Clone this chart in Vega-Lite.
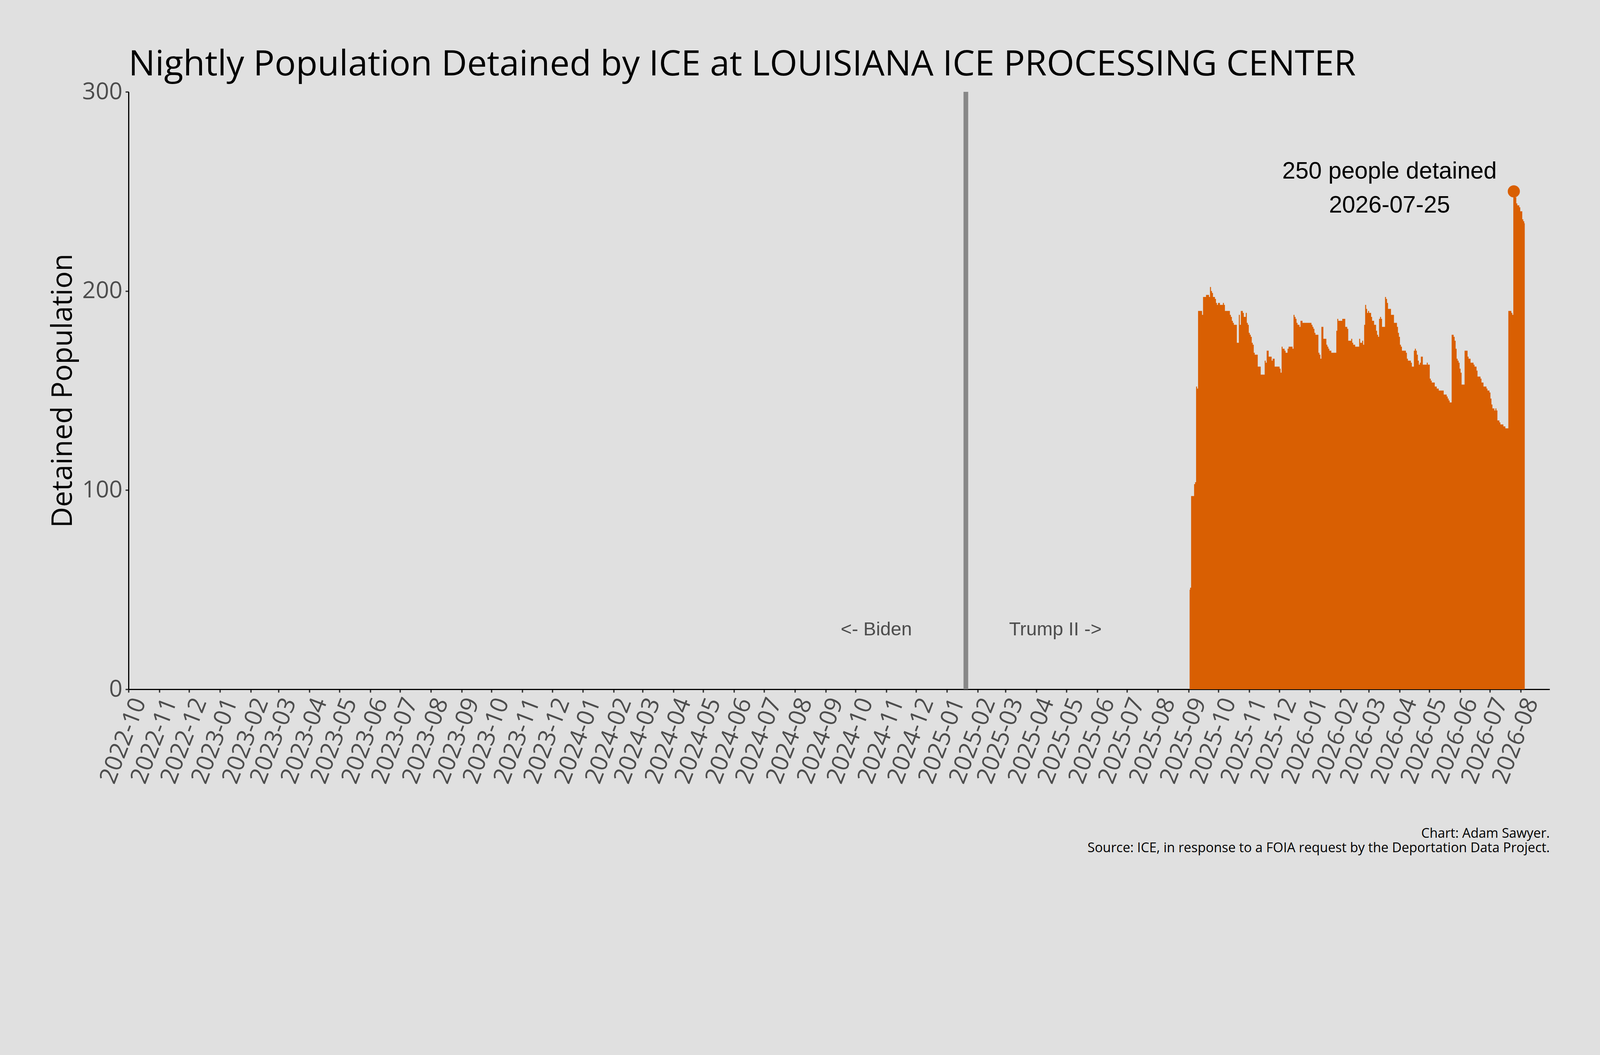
{
  "$schema": "https://vega.github.io/schema/vega-lite/v6.json",
  "width": 3638,
  "height": 1529,
  "autosize": {"type": "none"},
  "padding": {"left": 329, "top": 235, "right": 129, "bottom": 936},
  "background": "#E0E0E0",
  "config": {"view": {"stroke": null}, "font": "Open Sans"},
  "title": {
    "text": "Nightly Population Detained by ICE at LOUISIANA ICE PROCESSING CENTER",
    "anchor": "start",
    "frame": "group",
    "font": "Open Sans",
    "fontSize": 90.5,
    "fontWeight": "normal",
    "color": "#000000",
    "offset": -7
  },
  "datasets": {
    "pop": [
      {"date":"2025-09-02","value":50},{"date":"2025-09-03","value":51},{"date":"2025-09-04","value":97},{"date":"2025-09-05","value":97},{"date":"2025-09-06","value":97},{"date":"2025-09-07","value":103},{"date":"2025-09-08","value":104},{"date":"2025-09-09","value":152},{"date":"2025-09-10","value":151},{"date":"2025-09-11","value":190},{"date":"2025-09-12","value":190},{"date":"2025-09-13","value":190},{"date":"2025-09-14","value":190},{"date":"2025-09-15","value":188},{"date":"2025-09-16","value":197},{"date":"2025-09-17","value":197},{"date":"2025-09-18","value":197},{"date":"2025-09-19","value":198},{"date":"2025-09-20","value":198},{"date":"2025-09-21","value":198},{"date":"2025-09-22","value":197},{"date":"2025-09-23","value":202},{"date":"2025-09-24","value":200},{"date":"2025-09-25","value":199},{"date":"2025-09-26","value":197},{"date":"2025-09-27","value":197},{"date":"2025-09-28","value":196},{"date":"2025-09-29","value":194},{"date":"2025-09-30","value":193},
      {"date":"2025-10-01","value":194},{"date":"2025-10-02","value":194},{"date":"2025-10-03","value":193},{"date":"2025-10-04","value":193},{"date":"2025-10-05","value":193},{"date":"2025-10-06","value":194},{"date":"2025-10-07","value":193},{"date":"2025-10-08","value":190},{"date":"2025-10-09","value":190},{"date":"2025-10-10","value":190},{"date":"2025-10-11","value":190},{"date":"2025-10-12","value":190},{"date":"2025-10-13","value":188},{"date":"2025-10-14","value":187},{"date":"2025-10-15","value":185},{"date":"2025-10-16","value":184},{"date":"2025-10-17","value":183},{"date":"2025-10-18","value":183},{"date":"2025-10-19","value":183},{"date":"2025-10-20","value":174},{"date":"2025-10-21","value":174},{"date":"2025-10-22","value":188},{"date":"2025-10-23","value":183},{"date":"2025-10-24","value":190},{"date":"2025-10-25","value":190},{"date":"2025-10-26","value":189},{"date":"2025-10-27","value":187},{"date":"2025-10-28","value":187},{"date":"2025-10-29","value":189},{"date":"2025-10-30","value":184},{"date":"2025-10-31","value":183},
      {"date":"2025-11-01","value":179},{"date":"2025-11-02","value":178},{"date":"2025-11-03","value":177},{"date":"2025-11-04","value":174},{"date":"2025-11-05","value":173},{"date":"2025-11-06","value":169},{"date":"2025-11-07","value":168},{"date":"2025-11-08","value":168},{"date":"2025-11-09","value":168},{"date":"2025-11-10","value":162},{"date":"2025-11-11","value":162},{"date":"2025-11-12","value":162},{"date":"2025-11-13","value":158},{"date":"2025-11-14","value":158},{"date":"2025-11-15","value":158},{"date":"2025-11-16","value":158},{"date":"2025-11-17","value":165},{"date":"2025-11-18","value":164},{"date":"2025-11-19","value":170},{"date":"2025-11-20","value":170},{"date":"2025-11-21","value":167},{"date":"2025-11-22","value":167},{"date":"2025-11-23","value":167},{"date":"2025-11-24","value":165},{"date":"2025-11-25","value":166},{"date":"2025-11-26","value":166},{"date":"2025-11-27","value":162},{"date":"2025-11-28","value":162},{"date":"2025-11-29","value":162},{"date":"2025-11-30","value":162},
      {"date":"2025-12-01","value":162},{"date":"2025-12-02","value":161},{"date":"2025-12-03","value":159},{"date":"2025-12-04","value":172},{"date":"2025-12-05","value":171},{"date":"2025-12-06","value":171},{"date":"2025-12-07","value":170},{"date":"2025-12-08","value":169},{"date":"2025-12-09","value":169},{"date":"2025-12-10","value":171},{"date":"2025-12-11","value":172},{"date":"2025-12-12","value":172},{"date":"2025-12-13","value":172},{"date":"2025-12-14","value":172},{"date":"2025-12-15","value":171},{"date":"2025-12-16","value":188},{"date":"2025-12-17","value":187},{"date":"2025-12-18","value":186},{"date":"2025-12-19","value":184},{"date":"2025-12-20","value":183},{"date":"2025-12-21","value":183},{"date":"2025-12-22","value":182},{"date":"2025-12-23","value":185},{"date":"2025-12-24","value":185},{"date":"2025-12-25","value":184},{"date":"2025-12-26","value":184},{"date":"2025-12-27","value":184},{"date":"2025-12-28","value":184},{"date":"2025-12-29","value":184},{"date":"2025-12-30","value":184},{"date":"2025-12-31","value":184},
      {"date":"2026-01-01","value":184},{"date":"2026-01-02","value":184},{"date":"2026-01-03","value":183},{"date":"2026-01-04","value":182},{"date":"2026-01-05","value":181},{"date":"2026-01-06","value":179},{"date":"2026-01-07","value":178},{"date":"2026-01-08","value":178},{"date":"2026-01-09","value":178},{"date":"2026-01-10","value":169},{"date":"2026-01-11","value":168},{"date":"2026-01-12","value":166},{"date":"2026-01-13","value":182},{"date":"2026-01-14","value":182},{"date":"2026-01-15","value":176},{"date":"2026-01-16","value":176},{"date":"2026-01-17","value":176},{"date":"2026-01-18","value":173},{"date":"2026-01-19","value":172},{"date":"2026-01-20","value":171},{"date":"2026-01-21","value":170},{"date":"2026-01-22","value":170},{"date":"2026-01-23","value":169},{"date":"2026-01-24","value":169},{"date":"2026-01-25","value":169},{"date":"2026-01-26","value":169},{"date":"2026-01-27","value":169},{"date":"2026-01-28","value":180},{"date":"2026-01-29","value":186},{"date":"2026-01-30","value":185},{"date":"2026-01-31","value":185},
      {"date":"2026-02-01","value":185},{"date":"2026-02-02","value":185},{"date":"2026-02-03","value":186},{"date":"2026-02-04","value":186},{"date":"2026-02-05","value":186},{"date":"2026-02-06","value":182},{"date":"2026-02-07","value":182},{"date":"2026-02-08","value":181},{"date":"2026-02-09","value":175},{"date":"2026-02-10","value":175},{"date":"2026-02-11","value":175},{"date":"2026-02-12","value":176},{"date":"2026-02-13","value":174},{"date":"2026-02-14","value":173},{"date":"2026-02-15","value":173},{"date":"2026-02-16","value":172},{"date":"2026-02-17","value":172},{"date":"2026-02-18","value":172},{"date":"2026-02-19","value":172},{"date":"2026-02-20","value":176},{"date":"2026-02-21","value":174},{"date":"2026-02-22","value":174},{"date":"2026-02-23","value":175},{"date":"2026-02-24","value":173},{"date":"2026-02-25","value":183},{"date":"2026-02-26","value":193},{"date":"2026-02-27","value":191},{"date":"2026-02-28","value":189},
      {"date":"2026-03-01","value":190},{"date":"2026-03-02","value":189},{"date":"2026-03-03","value":189},{"date":"2026-03-04","value":187},{"date":"2026-03-05","value":185},{"date":"2026-03-06","value":185},{"date":"2026-03-07","value":183},{"date":"2026-03-08","value":183},{"date":"2026-03-09","value":180},{"date":"2026-03-10","value":178},{"date":"2026-03-11","value":177},{"date":"2026-03-12","value":186},{"date":"2026-03-13","value":187},{"date":"2026-03-14","value":186},{"date":"2026-03-15","value":182},{"date":"2026-03-16","value":182},{"date":"2026-03-17","value":182},{"date":"2026-03-18","value":197},{"date":"2026-03-19","value":196},{"date":"2026-03-20","value":194},{"date":"2026-03-21","value":191},{"date":"2026-03-22","value":191},{"date":"2026-03-23","value":191},{"date":"2026-03-24","value":188},{"date":"2026-03-25","value":188},{"date":"2026-03-26","value":188},{"date":"2026-03-27","value":184},{"date":"2026-03-28","value":184},{"date":"2026-03-29","value":184},{"date":"2026-03-30","value":182},{"date":"2026-03-31","value":179},
      {"date":"2026-04-01","value":177},{"date":"2026-04-02","value":173},{"date":"2026-04-03","value":172},{"date":"2026-04-04","value":170},{"date":"2026-04-05","value":170},{"date":"2026-04-06","value":170},{"date":"2026-04-07","value":170},{"date":"2026-04-08","value":169},{"date":"2026-04-09","value":166},{"date":"2026-04-10","value":165},{"date":"2026-04-11","value":165},{"date":"2026-04-12","value":165},{"date":"2026-04-13","value":164},{"date":"2026-04-14","value":162},{"date":"2026-04-15","value":162},{"date":"2026-04-16","value":170},{"date":"2026-04-17","value":171},{"date":"2026-04-18","value":170},{"date":"2026-04-19","value":168},{"date":"2026-04-20","value":165},{"date":"2026-04-21","value":163},{"date":"2026-04-22","value":164},{"date":"2026-04-23","value":167},{"date":"2026-04-24","value":167},{"date":"2026-04-25","value":163},{"date":"2026-04-26","value":163},{"date":"2026-04-27","value":163},{"date":"2026-04-28","value":163},{"date":"2026-04-29","value":164},{"date":"2026-04-30","value":163},
      {"date":"2026-05-01","value":163},{"date":"2026-05-02","value":156},{"date":"2026-05-03","value":155},{"date":"2026-05-04","value":154},{"date":"2026-05-05","value":154},{"date":"2026-05-06","value":154},{"date":"2026-05-07","value":152},{"date":"2026-05-08","value":152},{"date":"2026-05-09","value":151},{"date":"2026-05-10","value":151},{"date":"2026-05-11","value":150},{"date":"2026-05-12","value":150},{"date":"2026-05-13","value":150},{"date":"2026-05-14","value":150},{"date":"2026-05-15","value":150},{"date":"2026-05-16","value":148},{"date":"2026-05-17","value":148},{"date":"2026-05-18","value":148},{"date":"2026-05-19","value":147},{"date":"2026-05-20","value":146},{"date":"2026-05-21","value":145},{"date":"2026-05-22","value":144},{"date":"2026-05-23","value":144},{"date":"2026-05-24","value":178},{"date":"2026-05-25","value":178},{"date":"2026-05-26","value":177},{"date":"2026-05-27","value":175},{"date":"2026-05-28","value":171},{"date":"2026-05-29","value":166},{"date":"2026-05-30","value":165},{"date":"2026-05-31","value":164},
      {"date":"2026-06-01","value":161},{"date":"2026-06-02","value":159},{"date":"2026-06-03","value":153},{"date":"2026-06-04","value":153},{"date":"2026-06-05","value":153},{"date":"2026-06-06","value":170},{"date":"2026-06-07","value":170},{"date":"2026-06-08","value":170},{"date":"2026-06-09","value":167},{"date":"2026-06-10","value":166},{"date":"2026-06-11","value":166},{"date":"2026-06-12","value":164},{"date":"2026-06-13","value":164},{"date":"2026-06-14","value":164},{"date":"2026-06-15","value":163},{"date":"2026-06-16","value":162},{"date":"2026-06-17","value":162},{"date":"2026-06-18","value":160},{"date":"2026-06-19","value":157},{"date":"2026-06-20","value":157},{"date":"2026-06-21","value":157},{"date":"2026-06-22","value":156},{"date":"2026-06-23","value":154},{"date":"2026-06-24","value":154},{"date":"2026-06-25","value":152},{"date":"2026-06-26","value":152},{"date":"2026-06-27","value":152},{"date":"2026-06-28","value":151},{"date":"2026-06-29","value":150},{"date":"2026-06-30","value":150},
      {"date":"2026-07-01","value":149},{"date":"2026-07-02","value":146},{"date":"2026-07-03","value":143},{"date":"2026-07-04","value":141},{"date":"2026-07-05","value":141},{"date":"2026-07-06","value":140},{"date":"2026-07-07","value":141},{"date":"2026-07-08","value":140},{"date":"2026-07-09","value":135},{"date":"2026-07-10","value":135},{"date":"2026-07-11","value":134},{"date":"2026-07-12","value":133},{"date":"2026-07-13","value":133},{"date":"2026-07-14","value":133},{"date":"2026-07-15","value":132},{"date":"2026-07-16","value":132},{"date":"2026-07-17","value":131},{"date":"2026-07-18","value":131},{"date":"2026-07-19","value":131},{"date":"2026-07-20","value":190},{"date":"2026-07-21","value":190},{"date":"2026-07-22","value":190},{"date":"2026-07-23","value":189},{"date":"2026-07-24","value":188},{"date":"2026-07-25","value":250},{"date":"2026-07-26","value":248},{"date":"2026-07-27","value":247},{"date":"2026-07-28","value":244},{"date":"2026-07-29","value":243},{"date":"2026-07-30","value":243},{"date":"2026-07-31","value":242},
      {"date":"2026-08-01","value":240},{"date":"2026-08-02","value":240},{"date":"2026-08-03","value":236},{"date":"2026-08-04","value":235},{"date":"2026-08-05","value":234}
    ],
    "eras": [{"date": "2025-01-20", "event": "Inauguration"}],
    "notes": [
      {"date": "2024-10-22", "value": 30, "label": "<- Biden"},
      {"date": "2025-04-20", "value": 30, "label": "Trump II ->"}
    ],
    "peak": [{"date": "2026-07-25", "value": 250}],
    "peaklabel": [{"date": "2026-03-22", "value": 260, "label": "250 people detained\n2026-07-25"}]
  },
  "encoding": {
    "x": {
      "field": "date",
      "type": "temporal",
      "scale": {
        "type": "utc",
        "domain": [
          {"year": 2022, "month": 10, "date": 1, "utc": true},
          {"year": 2026, "month": 8, "date": 30, "utc": true}
        ]
      },
      "axis": {
        "format": "%Y-%m",
        "tickCount": {"interval": "month", "step": 1},
        "labelOverlap": false,
        "labelFlush": false,
        "labelBound": false,
        "labelLimit": 2000,
        "labelAngle": -69,
        "labelAlign": "right",
        "labelBaseline": "top",
        "labelFont": "Open Sans",
        "labelFontSize": 61,
        "labelColor": "#4D4D4D",
        "labelPadding": 6,
        "grid": false,
        "domainColor": "#000000",
        "domainWidth": 3.2,
        "tickColor": "#333333",
        "tickWidth": 3.4,
        "tickSize": 8,
        "title": ["Chart: Adam Sawyer.", "Source: ICE, in response to a FOIA request by the Deportation Data Project."],
        "titleFont": "Open Sans",
        "titleFontSize": 34,
        "titleFontWeight": "normal",
        "titleColor": "#000000",
        "titleAlign": "right",
        "titleBaseline": "alphabetic",
        "titleLineHeight": 37.5,
        "titleX": 3638,
        "titleY": 379
      }
    }
  },
  "layer": [
    {
      "data": {"name": "pop"},
      "mark": {"type": "area", "interpolate": "step", "color": "#D95F02"},
      "encoding": {
        "y": {
          "field": "value",
          "type": "quantitative",
          "scale": {"domain": [0, 300], "nice": false},
          "axis": {
            "values": [0, 100, 200, 300],
            "grid": false,
            "labelFont": "Open Sans",
            "labelFontSize": 60,
            "labelColor": "#4D4D4D",
            "labelPadding": 8,
            "domainColor": "#000000",
            "domainWidth": 3,
            "tickColor": "#333333",
            "tickWidth": 3.4,
            "tickSize": 8,
            "title": "Detained Population",
            "titleFont": "Open Sans",
            "titleFontSize": 73.4,
            "titleFontWeight": "normal",
            "titleColor": "#000000",
            "titleAnchor": "middle",
            "titleBaseline": "alphabetic",
            "titleX": -146
          }
        }
      }
    },
    {
      "data": {"name": "eras"},
      "mark": {"type": "rule", "color": "#888888", "strokeWidth": 12},
      "encoding": {}
    },
    {
      "data": {"name": "notes"},
      "mark": {"type": "text", "font": "Liberation Sans", "fontSize": 48.6, "color": "#4D4D4D", "align": "center", "baseline": "middle"},
      "encoding": {
        "y": {"field": "value", "type": "quantitative", "scale": {"domain": [0, 300], "nice": false}},
        "text": {"field": "label"}
      }
    },
    {
      "data": {"name": "peaklabel"},
      "mark": {"type": "text", "font": "Liberation Sans", "fontSize": 60.6, "color": "#000000", "align": "center", "baseline": "middle", "lineBreak": "\n", "lineHeight": 87},
      "encoding": {
        "y": {"field": "value", "type": "quantitative", "scale": {"domain": [0, 300], "nice": false}},
        "text": {"field": "label"}
      }
    },
    {
      "data": {"name": "peak"},
      "mark": {"type": "point", "filled": true, "shape": "circle", "size": 961, "color": "#D95F02", "opacity": 1},
      "encoding": {
        "y": {"field": "value", "type": "quantitative", "scale": {"domain": [0, 300], "nice": false}}
      }
    }
  ]
}
